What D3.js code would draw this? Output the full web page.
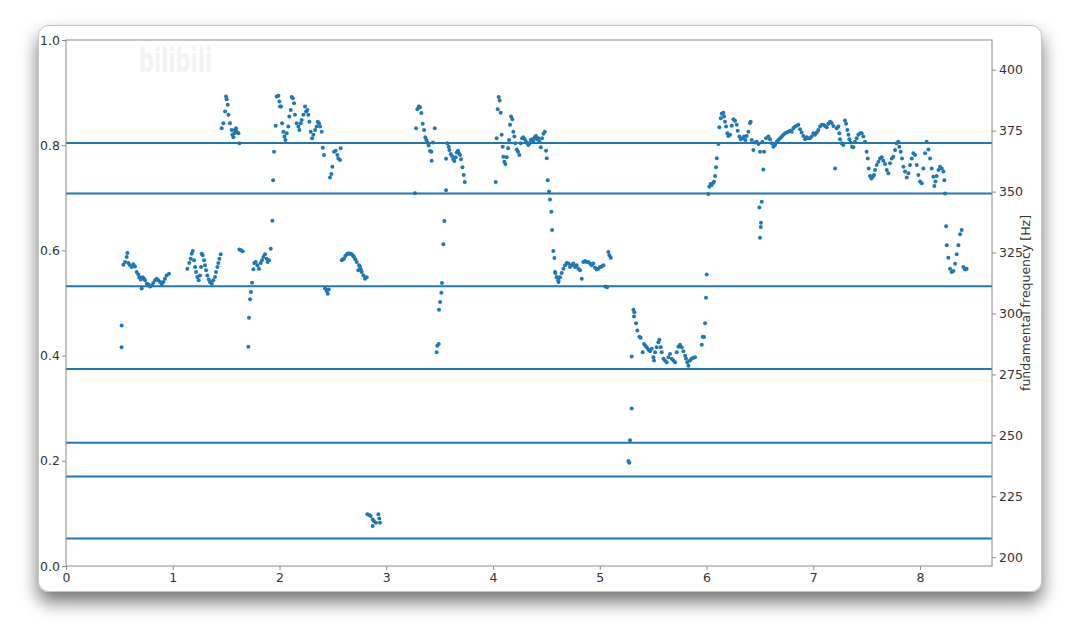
<!DOCTYPE html>
<html>
<head>
<meta charset="utf-8">
<script src="https://cdn.jsdelivr.net/npm/d3@7/dist/d3.min.js"></script>
<style>
  html, body { margin: 0; padding: 0; background: #ffffff; }
  svg { display: block; }
  text { font-family: "DejaVu Sans", sans-serif; }
</style>
</head>
<body>
<svg id="chart" width="1080" height="643"></svg>
<script>
// ---------------- data ----------------
// time [s] and fundamental frequency [Hz]
const segA = [[0.521,295.1],[0.521,286.1],[0.537,320.0],[0.553,321.1],[0.568,323.2],[0.575,324.8],[0.584,320.7],[0.600,319.8],[0.615,319.1],[0.631,320.2],[0.646,319.3],[0.662,317.0],[0.678,316.0],[0.687,314.9],[0.700,313.9],[0.709,310.2],[0.718,314.9],[0.731,314.3],[0.740,313.6],[0.756,312.2],[0.771,311.9],[0.787,311.1],[0.803,311.5],[0.818,312.5],[0.834,313.6],[0.849,314.3],[0.865,313.6],[0.881,312.9],[0.896,311.9],[0.912,312.9],[0.927,314.3],[0.943,315.6],[0.965,316.3]];
const segB = [[1.137,318.4],[1.155,320.7],[1.168,322.5],[1.177,324.5],[1.187,325.6],[1.199,321.8],[1.209,319.1],[1.218,317.0],[1.230,315.0],[1.243,313.6],[1.255,315.6],[1.265,319.1],[1.271,324.5],[1.280,323.9],[1.293,321.8],[1.302,319.8],[1.312,317.7],[1.324,315.6],[1.337,313.9],[1.349,312.9],[1.365,312.2],[1.380,313.6],[1.396,315.0],[1.405,317.0],[1.418,319.1],[1.427,320.7],[1.437,322.5],[1.449,324.3]];
const segC = [[1.458,376.0],[1.474,378.0],[1.490,382.9],[1.499,389.0],[1.505,387.9],[1.515,385.6],[1.521,381.5],[1.536,378.0],[1.552,375.3],[1.558,373.3],[1.568,372.3],[1.577,373.9],[1.583,375.3],[1.593,376.0],[1.599,374.6],[1.615,373.9],[1.624,369.8]];
const segD = [[1.624,326.2],[1.640,325.9],[1.655,325.5],[1.708,286.4],[1.714,298.2],[1.724,305.8],[1.733,308.8],[1.743,312.6],[1.755,318.1],[1.764,320.7],[1.777,321.1],[1.793,319.8],[1.808,318.4],[1.824,320.7],[1.836,321.8],[1.849,323.2],[1.864,324.3],[1.880,322.5],[1.889,321.1],[1.902,321.8],[1.918,326.6],[1.933,338.0],[1.940,354.7],[1.949,366.4],[1.964,377.0]];
const segE = [[1.974,389.0],[1.989,389.3],[1.999,387.0],[2.005,384.9],[2.014,384.9],[2.024,378.0],[2.036,374.6],[2.046,372.6],[2.055,371.2],[2.067,373.9],[2.083,376.7],[2.092,380.8],[2.105,383.5],[2.114,388.8],[2.124,388.3],[2.136,386.3],[2.145,381.5],[2.161,378.0],[2.177,376.7],[2.186,375.3],[2.199,378.0],[2.208,379.4],[2.224,381.5],[2.239,384.9],[2.249,382.9],[2.261,383.5],[2.270,381.5],[2.280,378.7],[2.292,374.6],[2.305,371.9],[2.317,373.3],[2.333,375.3],[2.348,376.7],[2.358,378.7],[2.370,378.0],[2.380,376.7],[2.395,374.6]];
const segF = [[2.405,368.0],[2.417,365.0],[2.473,355.8],[2.486,357.2],[2.495,360.2],[2.511,366.4],[2.526,366.8],[2.542,365.0],[2.551,363.6],[2.567,363.0],[2.573,367.8]];
const segG = [[2.427,310.2],[2.442,309.2],[2.452,308.1],[2.461,309.8]];
const segH = [[2.583,321.8],[2.594,322.3],[2.604,322.5],[2.617,323.6],[2.630,324.3],[2.642,324.6],[2.654,324.6],[2.665,324.5],[2.676,324.3],[2.687,323.8],[2.698,323.2],[2.710,322.3],[2.723,321.1],[2.738,317.7],[2.745,319.8],[2.754,319.1],[2.762,318.0],[2.770,317.0],[2.786,315.6],[2.801,314.3],[2.817,314.9]];
const segI = [[2.823,217.6],[2.841,217.3],[2.854,216.9],[2.873,215.5],[2.885,214.8],[2.904,214.1],[2.926,217.6],[2.935,215.9],[2.941,214.1],[2.873,212.8]];
const segJ = [[3.269,349.3],[3.279,376.0],[3.291,383.8],[3.304,384.9],[3.316,384.6],[3.329,382.2],[3.341,377.8],[3.354,375.3],[3.366,372.3],[3.375,371.2],[3.385,370.1],[3.397,368.9],[3.410,366.7],[3.422,366.4],[3.425,362.7],[3.438,370.1],[3.454,376.0]];
const segK = [[3.472,284.1],[3.478,286.8],[3.491,287.5],[3.494,301.5],[3.504,304.7],[3.516,308.5],[3.522,312.5],[3.535,328.4],[3.544,337.9],[3.560,350.6]];
const segL = [[3.560,363.5],[3.572,369.8],[3.585,368.4],[3.591,367.1],[3.604,365.4],[3.616,364.6],[3.628,363.3],[3.638,362.6],[3.650,364.1],[3.660,366.0],[3.672,366.8],[3.681,365.7],[3.691,365.0],[3.700,363.3],[3.713,360.0],[3.725,356.8],[3.735,353.9]];
const segM = [[4.025,353.9],[4.034,371.9],[4.044,383.8],[4.053,388.8],[4.062,387.4],[4.072,382.4],[4.081,373.3],[4.091,368.4],[4.097,364.3],[4.106,362.3],[4.116,361.3],[4.128,364.1],[4.141,367.8],[4.150,371.2],[4.159,377.4],[4.169,380.8],[4.181,379.7],[4.190,374.6],[4.200,372.6],[4.209,369.8],[4.222,367.3],[4.234,366.4],[4.247,365.0],[4.259,369.8],[4.272,371.9],[4.284,372.3],[4.297,371.5],[4.309,370.5],[4.322,369.8],[4.331,369.1],[4.341,369.8],[4.353,371.2],[4.366,371.5],[4.378,370.9],[4.390,372.3],[4.403,372.8],[4.412,371.5],[4.425,371.9],[4.434,370.5],[4.447,368.2],[4.459,371.9],[4.472,373.7],[4.485,374.6],[4.497,366.8],[4.503,363.7]];
const segN = [[4.512,354.7],[4.525,350.0],[4.534,346.8],[4.547,341.7],[4.553,334.2],[4.565,325.6],[4.575,322.8],[4.584,316.6],[4.597,314.9],[4.613,312.9]];
const segO = [[4.581,317.0],[4.597,314.9],[4.612,313.6],[4.628,314.9],[4.643,316.6],[4.659,318.4],[4.675,319.8],[4.690,320.7],[4.706,320.5],[4.721,319.1],[4.737,319.8],[4.752,320.5],[4.768,319.1],[4.784,319.8],[4.799,318.4],[4.815,317.7],[4.831,314.3],[4.846,321.1],[4.862,321.5],[4.877,321.1],[4.893,321.1],[4.909,320.5],[4.924,319.8],[4.940,320.5],[4.955,318.8],[4.971,318.0],[4.987,318.4],[5.002,319.1],[5.018,319.3],[5.034,319.8],[5.052,311.1],[5.068,310.8],[5.080,325.2],[5.090,323.9],[5.103,322.9]];
const segP = [[5.268,239.5],[5.277,238.8],[5.283,248.0],[5.299,261.0],[5.299,282.3],[5.315,301.5],[5.324,300.5],[5.321,298.8],[5.340,296.0],[5.352,293.0],[5.371,290.5],[5.383,290.0],[5.402,284.1],[5.415,287.5],[5.427,286.8],[5.440,286.1],[5.455,285.1],[5.471,284.5],[5.487,285.5],[5.502,282.0],[5.508,280.7],[5.518,284.1],[5.533,286.1],[5.549,288.2],[5.558,289.2],[5.571,286.1],[5.580,284.1],[5.596,281.4],[5.611,280.7],[5.627,280.0],[5.643,282.0],[5.658,283.4],[5.674,281.4],[5.690,280.7],[5.705,280.0],[5.721,284.1],[5.736,286.4],[5.752,287.2],[5.768,286.1],[5.783,284.5],[5.799,282.7],[5.808,281.4],[5.820,280.0],[5.830,278.6],[5.845,280.7],[5.861,281.4],[5.877,281.8],[5.892,282.0],[5.955,287.2],[5.964,290.5],[5.977,290.3],[5.986,296.0],[5.995,306.5],[6.001,316.0]];
const segQ = [[6.017,349.0],[6.026,352.0],[6.039,353.1],[6.048,352.7],[6.058,353.4],[6.070,354.0],[6.080,356.4],[6.089,360.0],[6.096,363.7],[6.111,369.5],[6.120,376.4],[6.133,380.1],[6.142,381.9],[6.158,382.4],[6.164,380.8],[6.173,378.7],[6.183,376.7],[6.195,373.9],[6.204,372.8],[6.220,373.3],[6.236,377.0],[6.251,379.7],[6.267,379.1],[6.283,377.4],[6.292,375.0],[6.307,372.6],[6.320,371.5],[6.339,371.9],[6.351,372.6],[6.364,371.2],[6.376,372.8],[6.392,374.6],[6.407,378.1],[6.414,378.7],[6.423,371.2],[6.439,367.1],[6.454,370.1],[6.470,370.5],[6.486,369.5],[6.501,366.4],[6.523,370.5],[6.539,366.4],[6.532,359.1],[6.517,345.8],[6.495,343.5],[6.510,337.2],[6.508,335.5],[6.501,331.1]];
const segR = [[6.557,371.9],[6.579,372.6],[6.595,371.5],[6.611,369.8],[6.626,368.4],[6.642,369.1],[6.658,370.5],[6.673,371.2],[6.689,371.9],[6.705,372.6],[6.720,373.3],[6.735,373.9],[6.751,374.2],[6.767,374.6],[6.782,375.0],[6.798,374.6],[6.813,376.0],[6.829,376.7],[6.845,377.0],[6.860,377.4],[6.876,375.6],[6.891,374.2],[6.907,372.8],[6.923,371.5],[6.938,372.3],[6.954,371.9],[6.969,371.9],[6.985,372.6],[7.001,373.9],[7.016,373.3],[7.032,374.2],[7.047,375.3],[7.063,376.7],[7.079,377.4],[7.094,377.4],[7.110,376.9],[7.126,376.4],[7.141,377.8],[7.157,378.7],[7.172,378.1],[7.188,376.9],[7.204,359.5],[7.219,376.0],[7.235,376.7],[7.244,373.9],[7.250,371.5],[7.266,369.8],[7.282,369.1],[7.297,379.2],[7.307,377.8],[7.319,375.3],[7.329,373.3],[7.338,371.5],[7.350,370.1],[7.363,368.4],[7.375,368.2],[7.391,370.5],[7.407,371.9],[7.422,373.3],[7.438,373.9],[7.453,373.9],[7.469,372.6],[7.485,370.5]];
const segS = [[7.500,366.4],[7.510,363.6],[7.519,359.5],[7.532,356.4],[7.544,355.4],[7.557,356.1],[7.569,356.8],[7.578,358.9],[7.594,360.9],[7.610,362.3],[7.625,363.6],[7.641,364.1],[7.656,362.7],[7.672,361.3],[7.688,358.9],[7.703,357.5],[7.719,361.6],[7.735,363.6],[7.750,364.3],[7.766,367.1],[7.781,369.8],[7.797,370.5],[7.806,368.4],[7.819,366.4],[7.831,363.6],[7.844,360.2],[7.859,358.2],[7.875,355.8],[7.891,357.5],[7.906,360.9],[7.922,363.6],[7.938,365.7],[7.953,365.0],[7.969,360.9],[7.984,356.8],[8.000,354.1],[8.016,353.4],[8.031,359.5],[8.047,365.7],[8.062,370.5],[8.078,367.3],[8.094,363.6],[8.109,359.5],[8.125,356.1],[8.134,352.3],[8.144,354.1],[8.156,356.4],[8.172,358.9],[8.187,360.2],[8.203,359.5],[8.219,358.2],[8.228,354.7],[8.234,349.2]];
const segT = [[8.244,335.8],[8.250,328.0],[8.265,322.9],[8.281,318.4],[8.297,317.0],[8.312,317.4],[8.328,320.4],[8.343,324.3],[8.359,328.0],[8.375,332.5],[8.390,334.2],[8.406,319.1],[8.422,318.0],[8.437,318.4]];

const noteFreqs = [207.65, 233.08, 246.94, 277.18, 311.13, 349.23, 369.99];
const xTicks = [0, 1, 2, 3, 4, 5, 6, 7, 8];
const leftTicks = [0.0, 0.2, 0.4, 0.6, 0.8, 1.0];
const rightTicks = [200, 225, 250, 275, 300, 325, 350, 375, 400];
const xDomain = [0, 8.674];
const leftDomain = [0, 1];
const rightDomain = [196.4, 412.2];
const rightLabel = "fundamental frequency [Hz]";
const watermark = "bilibili";

const points = [].concat(segA, segB, segC, segD, segE, segF, segG, segH, segI, segJ,
  segK, segL, segM, segN, segO, segP, segQ, segR, segS, segT);

// ---------------- layout ----------------
const plot = { left: 66, right: 992, top: 40, bottom: 566 };
const blue = "#1f77b4";

const svg = d3.select("#chart");
const defs = svg.append("defs");
const f = defs.append("filter").attr("id", "shadow")
  .attr("x", "-10%").attr("y", "-10%").attr("width", "120%").attr("height", "130%");
f.append("feDropShadow").attr("dx", 0).attr("dy", 10).attr("stdDeviation", 9)
  .attr("flood-color", "#000").attr("flood-opacity", 0.55);

// window frame
svg.append("rect")
  .attr("x", 38.5).attr("y", 25.5).attr("width", 1003).attr("height", 566)
  .attr("rx", 10).attr("ry", 10)
  .attr("fill", "#ffffff").attr("stroke", "#c4c4c4").attr("stroke-width", 1)
  .attr("filter", "url(#shadow)");

const x = d3.scaleLinear().domain(xDomain).range([plot.left, plot.right]);
const yL = d3.scaleLinear().domain(leftDomain).range([plot.bottom, plot.top]);
const yR = d3.scaleLinear().domain(rightDomain).range([plot.bottom, plot.top]);

// faint watermark
svg.append("text").attr("x", 139).attr("y", 72)
  .attr("font-size", 34).attr("font-weight", "bold")
  .attr("textLength", 73).attr("lengthAdjust", "spacingAndGlyphs")
  .attr("fill", "#f3f3f3").text(watermark);

// horizontal note lines
svg.append("g").selectAll("line").data(noteFreqs).join("line")
  .attr("x1", plot.left).attr("x2", plot.right)
  .attr("y1", d => yR(d)).attr("y2", d => yR(d))
  .attr("stroke", blue).attr("stroke-width", 2);

// scatter points
svg.append("g").selectAll("circle").data(points).join("circle")
  .attr("cx", d => x(d[0])).attr("cy", d => yR(d[1]))
  .attr("r", 2).attr("fill", blue);

// frame
svg.append("rect")
  .attr("x", plot.left).attr("y", plot.top)
  .attr("width", plot.right - plot.left).attr("height", plot.bottom - plot.top)
  .attr("fill", "none").attr("stroke", "#8a8a8a").attr("stroke-width", 1);

function styleAxis(g) {
  g.select(".domain").remove();
  g.selectAll(".tick line").attr("stroke", "#8a8a8a");
  g.selectAll(".tick text").attr("fill", "#333").attr("font-size", 12.5)
    .attr("font-family", "DejaVu Sans, sans-serif");
}

svg.append("g").attr("transform", `translate(0,${plot.bottom})`)
  .call(d3.axisBottom(x).tickValues(xTicks).tickFormat(d3.format("d")).tickSize(4).tickPadding(3))
  .call(styleAxis);

svg.append("g").attr("transform", `translate(${plot.left},0)`)
  .call(d3.axisLeft(yL).tickValues(leftTicks).tickFormat(d3.format(".1f")).tickSize(4).tickPadding(2))
  .call(styleAxis);

svg.append("g").attr("transform", `translate(${plot.right},0)`)
  .call(d3.axisRight(yR).tickValues(rightTicks).tickFormat(d3.format("d")).tickSize(4).tickPadding(3))
  .call(styleAxis);

svg.append("text")
  .attr("transform", `translate(1030,${(plot.top + plot.bottom) / 2}) rotate(-90)`)
  .attr("text-anchor", "middle").attr("font-size", 12.5).attr("fill", "#333")
  .text(rightLabel);
</script>
</body>
</html>
